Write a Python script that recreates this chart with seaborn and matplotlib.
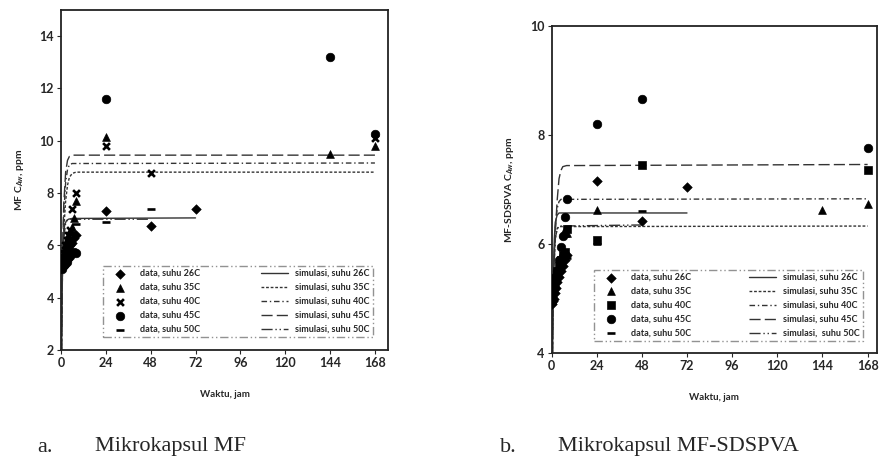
import matplotlib
matplotlib.use("Agg")
import matplotlib.pyplot as plt
import pandas as pd
import seaborn as sns

# ---- data: MF (panel a) ----
temps = ["26C", "35C", "40C", "45C", "50C"]

mf_t26 = [0.5, 1, 1.5, 2, 3, 4, 5, 6, 7, 8, 24, 48, 72]
mf_c26 = [5.2, 5.3, 5.5, 5.6, 5.8, 5.9, 6.0, 6.1, 6.3, 6.4, 7.3, 6.75, 7.4]
mf_t35 = [0.5, 1, 2, 3, 4, 5, 6, 7, 8, 24, 144, 168]
mf_c35 = [5.4, 5.6, 5.9, 6.1, 6.3, 6.5, 6.7, 7.05, 7.7, 10.15, 9.5, 9.8]
mf_t40 = [0.5, 1, 2, 3, 4, 5, 6, 8, 24, 48, 168]
mf_c40 = [5.5, 5.7, 6.0, 6.2, 6.4, 6.6, 7.4, 8.0, 9.8, 8.75, 10.1]
mf_t45 = [0.5, 1, 1.5, 2, 3, 4, 5, 6, 7, 8, 24, 144, 168]
mf_c45 = [5.1, 5.2, 5.25, 5.3, 5.35, 5.5, 5.6, 5.7, 5.75, 5.7, 11.6, 13.2, 10.25]
mf_t50 = [0.5, 1, 2, 3, 4, 6, 8, 24, 48]
mf_c50 = [5.3, 5.5, 5.8, 6.0, 6.2, 6.5, 6.8, 6.9, 7.4]

mf_st26 = [0.3, 0.6, 1.0, 1.5, 2.0, 3.0, 4.0, 6.0, 72]
mf_sc26 = [2.0, 4.6, 5.9, 6.5, 6.8, 6.95, 7.0, 7.03, 7.05]
mf_st35 = [0.3, 0.8, 1.5, 2.5, 3.5, 4.5, 6.0, 8.0, 168]
mf_sc35 = [2.0, 5.0, 6.6, 7.7, 8.3, 8.6, 8.75, 8.8, 8.8]
mf_st40 = [0.3, 0.8, 1.5, 2.5, 3.5, 4.5, 6.0, 168]
mf_sc40 = [2.0, 5.4, 7.2, 8.4, 8.9, 9.08, 9.13, 9.15]
mf_st45 = [0.3, 0.8, 1.5, 2.5, 3.5, 4.5, 6.0, 168]
mf_sc45 = [2.0, 5.6, 7.6, 8.8, 9.25, 9.4, 9.45, 9.45]
mf_st50 = [0.3, 0.8, 1.5, 2.5, 3.5, 5.0, 48]
mf_sc50 = [2.0, 5.0, 6.3, 6.85, 6.97, 7.0, 7.0]

# ---- data: MF-SDSPVA (panel b) ----
sd_t26 = [0.5, 1, 1.5, 2, 2.5, 3, 4, 5, 6, 7, 8, 24, 48, 72]
sd_c26 = [4.9, 4.95, 5.0, 5.1, 5.2, 5.3, 5.4, 5.5, 5.6, 5.7, 5.8, 7.15, 6.42, 7.05]
sd_t35 = [0.5, 1, 2, 3, 4, 5, 6, 7, 8, 24, 144, 168]
sd_c35 = [5.0, 5.1, 5.3, 5.45, 5.6, 5.8, 6.2, 6.2, 6.2, 6.62, 6.62, 6.73]
sd_t40 = [0.5, 1, 2, 3, 4, 5, 6, 7, 8, 24, 48, 168]
sd_c40 = [5.1, 5.2, 5.35, 5.5, 5.6, 5.7, 5.8, 5.85, 6.27, 6.07, 7.45, 7.35]
sd_t45 = [0.5, 1, 2, 3, 4, 5, 6, 7, 8, 24, 48, 168]
sd_c45 = [5.2, 5.3, 5.4, 5.5, 5.7, 5.95, 6.15, 6.5, 6.82, 8.2, 8.67, 7.77]
sd_t50 = [0.5, 1, 2, 3, 4, 5, 6, 8, 24, 48]
sd_c50 = [5.0, 5.15, 5.3, 5.4, 5.5, 5.6, 5.7, 5.75, 6.0, 6.6]

sd_st26 = [0.5, 1.0, 1.5, 2.0, 3.0, 4.0, 72]
sd_sc26 = [4.0, 5.5, 6.1, 6.4, 6.53, 6.57, 6.57]
sd_st35 = [0.5, 1.0, 2.0, 3.0, 4.0, 168]
sd_sc35 = [4.0, 5.4, 6.1, 6.28, 6.32, 6.33]
sd_st40 = [0.5, 1.0, 2.0, 3.0, 4.0, 5.0, 168]
sd_sc40 = [4.0, 5.4, 6.3, 6.65, 6.78, 6.82, 6.83]
sd_st45 = [0.5, 1.0, 2.0, 3.0, 4.0, 5.0, 6.0, 8.0, 168]
sd_sc45 = [4.0, 5.3, 6.2, 6.8, 7.2, 7.35, 7.42, 7.44, 7.46]
sd_st50 = [0.5, 1.0, 2.0, 3.0, 4.0, 48]
sd_sc50 = [4.0, 5.4, 6.1, 6.28, 6.33, 6.35]

x_ticks = [0, 24, 48, 72, 96, 120, 144, 168]

sns.set_style("ticks")
plt.rcParams["font.family"] = ["Lato", "DejaVu Sans"]
plt.rcParams["mathtext.fontset"] = "custom"
plt.rcParams["mathtext.it"] = "Lato:italic:bold"
plt.rcParams["mathtext.rm"] = "Lato:bold"

dashes = {
    "26C": "-",
    "35C": (0, (2, 1.3)),
    "40C": (0, (4, 2, 1, 2)),
    "45C": (0, (8, 3)),
    "50C": (0, (8, 2, 1, 2, 1, 2)),
}
sizes = {"D": 24, "^": 32, "x": 24, "o": 38, "_": 34, "s": 34}


def draw_panel(ax, data, sims, markers, sim_labels, ylim, yticks, ylabel, leg_box):
    for temp, (t, c), m in zip(temps, data, markers):
        df = pd.DataFrame({"t": t, "c": c})
        kw = dict(marker=m, s=sizes[m], color="k", label=f"data, suhu {temp}", ax=ax, zorder=3)
        if m in ("x", "_"):
            kw["linewidth"] = 1.9
        else:
            kw["edgecolor"] = "k"
        sns.scatterplot(data=df, x="t", y="c", **kw)
    for temp, (t, c), lab in zip(temps, sims, sim_labels):
        df = pd.DataFrame({"t": t, "c": c})
        sns.lineplot(data=df, x="t", y="c", color="#333333", linewidth=1.0,
                     linestyle=dashes[temp], sort=False, estimator=None,
                     label=lab, ax=ax, zorder=2)
    ax.set_xlim(0, ylim[2])
    ax.set_ylim(ylim[0], ylim[1])
    ax.set_xticks(x_ticks)
    ax.set_yticks(yticks)
    ax.tick_params(direction="out", length=3, width=0.8, labelsize=9, pad=2)
    for lab in ax.get_xticklabels() + ax.get_yticklabels():
        lab.set_fontweight("bold")
    for sp in ax.spines.values():
        sp.set_visible(True)
        sp.set_linewidth(1.3)
        sp.set_color("#222222")
    ax.set_xlabel("Waktu, jam", fontsize=7, fontweight="bold", labelpad=15)
    ax.set_ylabel(ylabel, fontsize=7.5, fontweight="bold", labelpad=10)

    handles, labels = ax.get_legend_handles_labels()
    leg = ax.legend(handles, labels, ncol=2, loc="lower left", bbox_to_anchor=leg_box,
                    mode="expand", prop={"size": 6.5, "weight": "bold"}, frameon=True,
                    fancybox=False, handlelength=3.0, labelspacing=0.55,
                    borderpad=0.35, handletextpad=0.8, borderaxespad=0)
    fr = leg.get_frame()
    fr.set_edgecolor("#777777")
    fr.set_linestyle((0, (6, 2, 1, 2, 1, 2)))
    fr.set_linewidth(1.0)


fig = plt.figure(figsize=(8.81, 4.66), dpi=100)
ax1 = fig.add_axes([0.0692, 0.249, 0.3712, 0.7295])
ax2 = fig.add_axes([0.626, 0.2425, 0.3695, 0.7015])

draw_panel(
    ax1,
    [(mf_t26, mf_c26), (mf_t35, mf_c35), (mf_t40, mf_c40), (mf_t45, mf_c45), (mf_t50, mf_c50)],
    [(mf_st26, mf_sc26), (mf_st35, mf_sc35), (mf_st40, mf_sc40), (mf_st45, mf_sc45), (mf_st50, mf_sc50)],
    ["D", "^", "x", "o", "_"],
    [f"simulasi, suhu {t}" for t in temps],
    (2, 15, 175), [2, 4, 6, 8, 10, 12, 14], r"MF C$_{Aw}$, ppm",
    (0.128, 0.038, 0.826, 0.22),
)
draw_panel(
    ax2,
    [(sd_t26, sd_c26), (sd_t35, sd_c35), (sd_t40, sd_c40), (sd_t45, sd_c45), (sd_t50, sd_c50)],
    [(sd_st26, sd_sc26), (sd_st35, sd_sc35), (sd_st40, sd_sc40), (sd_st45, sd_sc45), (sd_st50, sd_sc50)],
    ["D", "^", "s", "o", "_"],
    [f"simulasi, suhu {t}" for t in temps[:4]] + ["simulasi,  suhu 50C"],
    (4, 10, 173), [4, 6, 8, 10], r"MF-SDSPVA C$_{Aw}$, ppm",
    (0.13, 0.037, 0.828, 0.22),
)

cap_y = 1 - 447 / 466
fig.text(37 / 881, cap_y, "a.", family="Liberation Serif", fontsize=16, va="center")
fig.text(95 / 881, cap_y, "Mikrokapsul MF", family="Liberation Serif", fontsize=16, va="center")
fig.text(500 / 881, cap_y, "b.", family="Liberation Serif", fontsize=16, va="center")
fig.text(558 / 881, cap_y, "Mikrokapsul MF-SDSPVA", family="Liberation Serif", fontsize=16, va="center")

fig.savefig("out.png", dpi=100)
